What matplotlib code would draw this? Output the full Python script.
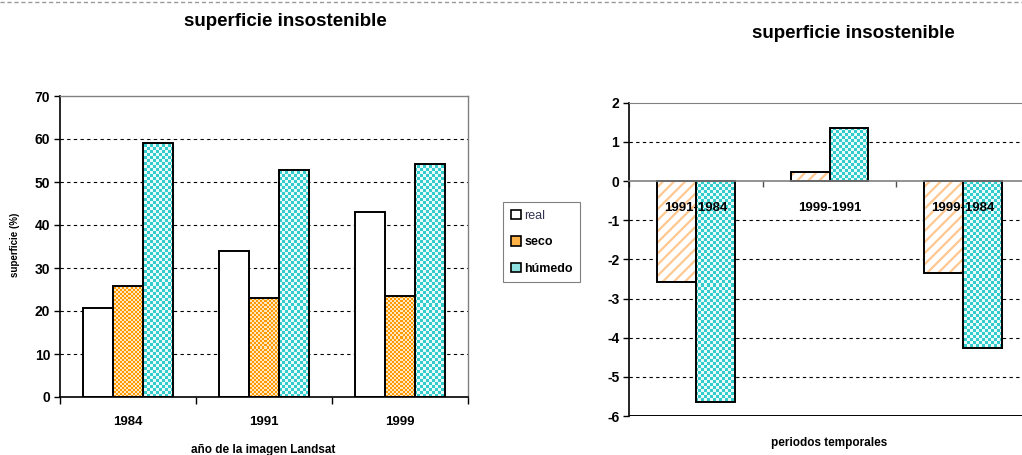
import numpy as np
import matplotlib
matplotlib.use("Agg")
import matplotlib.pyplot as plt
from matplotlib.patches import Patch
from matplotlib.lines import Line2D

# ---------------- data ----------------
years = ["1984", "1991", "1999"]
real = [20.7, 33.9, 43.0]
seco = [25.8, 23.1, 23.6]
humedo = [59.0, 52.9, 54.3]

periods = ["1991-1984", "1999-1991", "1999-1984"]
diff_seco = [-2.59, 0.23, -2.35]
diff_humedo = [-5.64, 1.35, -4.26]

left_yticks = [0, 10, 20, 30, 40, 50, 60, 70]
right_yticks = [-6, -5, -4, -3, -2, -1, 0, 1, 2]

title = "superficie insostenible"
left_ylabel = "superficie (%)"
left_xlabel = "año de la imagen Landsat"
right_xlabel = "periodos temporales"
legend_labels = ["real", "seco", "húmedo"]

# ---------------- style ----------------
plt.rcParams['font.family'] = ['Liberation Sans', 'DejaVu Sans']
plt.rcParams['hatch.linewidth'] = 1.6
plt.rcParams['axes.unicode_minus'] = False
DPI = 100
W, H = 1022, 455
fig = plt.figure(figsize=(W / DPI, H / DPI), dpi=DPI)

CYAN = np.array([0x33, 0xCC, 0xCC]) / 255
CYAN_L = np.array([0xE8, 0xFA, 0xFA]) / 255
ORANGE = np.array([0xFF, 0x99, 0x00]) / 255
ORANGE_L = np.array([0xFF, 0xE8, 0xC0]) / 255


def checker_fill(ax, bars, c1, c2, cell_px):
    fig.canvas.draw()
    bb = ax.get_window_extent()
    nx = max(2, int(round(bb.width / cell_px)))
    ny = max(2, int(round(bb.height / cell_px)))
    ii, jj = np.meshgrid(np.arange(nx), np.arange(ny))
    mask = ((ii + jj) % 2).astype(bool)
    img = np.zeros((ny, nx, 3))
    img[mask] = c1
    img[~mask] = c2
    xl, yl = ax.get_xlim(), ax.get_ylim()
    for b in bars:
        im = ax.imshow(img, extent=(xl[0], xl[1], yl[0], yl[1]), aspect='auto',
                       interpolation='nearest', zorder=1.2, origin='lower')
        im.set_clip_path(b)
    ax.set_xlim(xl)
    ax.set_ylim(yl)


# ---------------- left chart ----------------
ax1 = fig.add_axes([60 / W, 1 - 397 / H, 408 / W, 301 / H])
x = np.arange(len(years)) + 1.0
bw = 0.223
ax1.set_xlim(0.5, 3.5)
ax1.set_ylim(0, 70)
b_real = ax1.bar(x - bw, real, bw, facecolor='white', edgecolor='black', linewidth=1.4, zorder=1.5)
b_seco = ax1.bar(x, seco, bw, facecolor='none', edgecolor='black', linewidth=1.4, zorder=1.5)
b_hum = ax1.bar(x + bw, humedo, bw, facecolor='none', edgecolor='black', linewidth=1.4, zorder=1.5)
for v in left_yticks[1:-1]:
    ax1.axhline(v, color='black', lw=0.8, ls=(0, (3, 3)), zorder=0.5)
ax1.set_yticks(left_yticks)
ax1.set_xticks(x)
ax1.set_xticklabels(years)
ax1.set_xticks([0.5, 1.5, 2.5, 3.5], minor=True)
ax1.tick_params(axis='x', which='major', length=0, pad=14, labelsize=9.5)
ax1.tick_params(axis='x', which='minor', length=5, width=1, direction='out')
ax1.tick_params(axis='y', length=4, width=1, direction='out', labelsize=10, pad=3)
for lab in ax1.get_xticklabels() + ax1.get_yticklabels():
    lab.set_fontweight('bold')
for s in ['top', 'right']:
    ax1.spines[s].set_color('#808080')
    ax1.spines[s].set_linewidth(1.0)
for s in ['left', 'bottom']:
    ax1.spines[s].set_color('black')
    ax1.spines[s].set_linewidth(1.2)
fig.text(15 / W, 1 - 245 / H, left_ylabel, rotation=90, ha='center', va='center',
         fontsize=7, fontweight='bold')
fig.text(263 / W, 1 - 450 / H, left_xlabel, ha='center', va='center',
         fontsize=8.5, fontweight='bold')
fig.text(285 / W, 1 - 22 / H, title, ha='center', va='center', fontsize=13.5, fontweight='bold')

# ---------------- right chart ----------------
ax2 = fig.add_axes([629 / W, 1 - 416 / H, 401 / W, 313.3 / H])
xr = np.arange(len(periods)) + 1.0
bw2 = 0.29
ax2.set_xlim(0.5, 3.5)
ax2.set_ylim(-6, 2)
for v in [-5, -4, -3, -2, -1, 1]:
    ax2.axhline(v, color='black', lw=0.8, ls=(0, (3, 3)), zorder=0.5)
ax2.bar(xr - bw2 / 2, diff_seco, bw2, facecolor='white', edgecolor='#FFC890', hatch='///',
        linewidth=0, zorder=1.1)
ax2.bar(xr - bw2 / 2, diff_seco, bw2, facecolor='none', edgecolor='black', linewidth=1.4, zorder=1.5)
b_hum2 = ax2.bar(xr + bw2 / 2, diff_humedo, bw2, facecolor='none', edgecolor='black',
                 linewidth=1.4, zorder=1.5)
ax2.set_yticks(right_yticks)
ax2.set_xticks(xr)
ax2.set_xticklabels(periods)
ax2.set_xticks([0.5, 1.5, 2.5, 3.5], minor=True)
ax2.spines['bottom'].set_position(('data', 0))
ax2.spines['bottom'].set_color('#808080')
ax2.spines['bottom'].set_linewidth(1.2)
ax2.spines['top'].set_color('#808080')
ax2.spines['right'].set_visible(False)
ax2.spines['left'].set_color('black')
ax2.spines['left'].set_linewidth(1.2)
ax2.axhline(-6, color='black', lw=1.4, zorder=2.6)
ax2.tick_params(axis='x', which='major', length=0, pad=15, labelsize=9.5)
ax2.tick_params(axis='x', which='minor', length=4, width=1, direction='out', color='#505050')
ax2.tick_params(axis='y', length=4, width=1, direction='out', labelsize=10, pad=3)
for lab in ax2.get_xticklabels() + ax2.get_yticklabels():
    lab.set_fontweight('bold')
fig.text(829 / W, 1 - 443 / H, right_xlabel, ha='center', va='center',
         fontsize=8.5, fontweight='bold')
fig.text(853 / W, 1 - 33 / H, title, ha='center', va='center', fontsize=13.5, fontweight='bold')

# textures
checker_fill(ax1, b_seco, ORANGE, ORANGE_L, 2)
checker_fill(ax1, b_hum, CYAN, CYAN_L, 3)
checker_fill(ax2, b_hum2, CYAN, CYAN_L, 3)

# ---------------- legend ----------------
handles = [Patch(facecolor='white', edgecolor='black', linewidth=1.2),
           Patch(facecolor='#FFB347', edgecolor='black', linewidth=1.2),
           Patch(facecolor='#8FE0E0', edgecolor='black', linewidth=1.2)]
leg = fig.legend(handles, legend_labels, loc='upper left',
                 bbox_to_anchor=(503 / W, 1 - 202 / H), fontsize=9,
                 frameon=True, fancybox=False, edgecolor='#808080', framealpha=1,
                 handlelength=0.8, handleheight=0.8, handletextpad=0.3,
                 labelspacing=1.15, borderpad=0.6, borderaxespad=0)
leg.get_frame().set_linewidth(0.8)
texts = leg.get_texts()
texts[0].set_color('#333355')
texts[1].set_fontweight('bold')
texts[2].set_fontweight('bold')

# top dashed separator
fig.add_artist(Line2D([0, 1], [1 - 1.5 / H, 1 - 1.5 / H], transform=fig.transFigure,
                      color='#999999', lw=1, ls=(0, (3, 2))))

fig.savefig("out.png", dpi=DPI)
